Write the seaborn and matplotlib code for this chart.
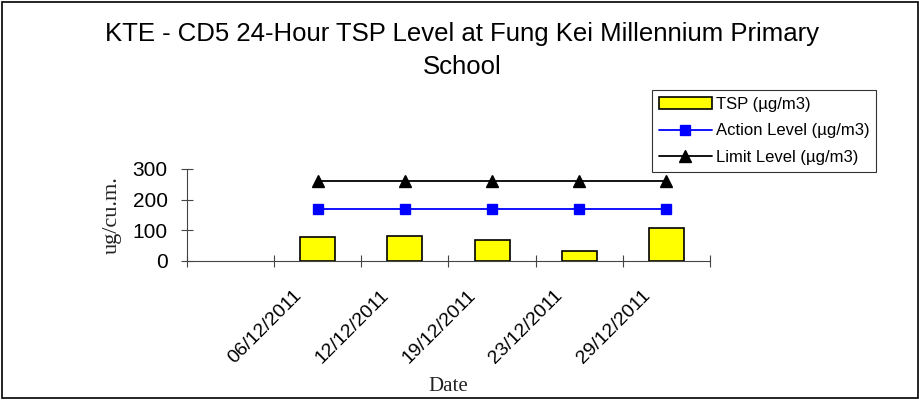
import numpy as np
import pandas as pd
import matplotlib
matplotlib.use('Agg')
import matplotlib.pyplot as plt
import matplotlib.transforms as mtransforms
import seaborn as sns
from matplotlib.patches import Rectangle

# Data
dates = ['06/12/2011', '12/12/2011', '19/12/2011', '23/12/2011', '29/12/2011']
tsp = [78, 83, 70, 31, 108]
action_level = [168, 168, 168, 168, 168]
limit_level = [260, 260, 260, 260, 260]
order = [''] + dates  # first category slot is empty in the original

df = pd.DataFrame({'Date': dates, 'TSP': tsp, 'Action': action_level, 'Limit': limit_level})

sns.set_style('white')
plt.rcParams['font.family'] = ['Liberation Sans', 'DejaVu Sans']
plt.rcParams.update({'text.color': 'black', 'axes.labelcolor': '#222222',
                     'xtick.labelcolor': 'black', 'ytick.labelcolor': 'black'})

fig = plt.figure(figsize=(9.2, 4), dpi=100)
ax = fig.add_axes([187 / 920, 139 / 400, 523 / 920, 92 / 400])

sns.barplot(data=df, x='Date', y='TSP', order=order, color='#ffff00', edgecolor='black',
            linewidth=1.2, width=0.4, saturation=1, ax=ax, label='TSP (µg/m3)')
sns.pointplot(data=df, x='Date', y='Action', order=order, color='#0000ff', markers='s',
              markersize=7, linewidth=1.3, ax=ax, label='Action Level (µg/m3)')
sns.pointplot(data=df, x='Date', y='Limit', order=order, color='black', markers='^',
              markersize=8, linewidth=1.3, ax=ax, label='Limit Level (µg/m3)')

ax.set_xlim(-0.5, len(order) - 0.5)
ax.set_ylim(0, 300)
ax.set_yticks([0, 100, 200, 300])
ax.set_yticklabels(['0', '100', '200', '300'], fontsize=15)

# ticks on category boundaries, labels at category centers
ax.set_xticks(np.arange(-0.5, len(order), 1.0))
ax.set_xticklabels([])
ax.set_xticks(np.arange(len(order)), minor=True)
ax.set_xticklabels(order, minor=True, rotation=45, ha='right', rotation_mode='anchor', fontsize=14)
ax.tick_params(axis='x', which='minor', length=0, pad=12, bottom=True)
ax.tick_params(axis='both', which='major', direction='inout', length=8, width=0.8,
               color='#444444', bottom=True, left=True)
ax.tick_params(axis='y', pad=10)
shift = mtransforms.ScaledTranslation(-0.25, -0.09, fig.dpi_scale_trans)
for lbl in ax.get_xticklabels(minor=True):
    lbl.set_transform(lbl.get_transform() + shift)

for s in ['top', 'right']:
    ax.spines[s].set_visible(False)
for s in ['left', 'bottom']:
    ax.spines[s].set_color('#444444')
    ax.spines[s].set_linewidth(0.8)

ax.set_xlabel('Date', fontsize=15, family=['Liberation Serif'])
ax.set_ylabel('ug/cu.m.', fontsize=16, family=['Liberation Serif'])
ax.xaxis.set_label_coords(0.5, -1.26)
ax.yaxis.set_label_coords(-0.125, 0.5)

fig.suptitle('KTE - CD5 24-Hour TSP Level at Fung Kei Millennium Primary\nSchool',
             x=0.502, y=0.945, fontsize=18.5, linespacing=1.45)

handles, labels = ax.get_legend_handles_labels()
idx = [labels.index(l) for l in ['TSP (µg/m3)', 'Action Level (µg/m3)', 'Limit Level (µg/m3)']]
leg = ax.legend([handles[i] for i in idx], [labels[i] for i in idx],
                loc='upper left', bbox_to_anchor=(652 / 920, 310 / 400), bbox_transform=fig.transFigure,
                fontsize=12, frameon=True, fancybox=False, edgecolor='black', borderpad=0.4,
                handlelength=3.2, handletextpad=0.25, labelspacing=0.7, borderaxespad=0)
leg.get_frame().set_linewidth(0.8)

fig.patches.append(Rectangle((0.002, 0.004), 0.996, 0.992, transform=fig.transFigure,
                             fill=False, edgecolor='black', linewidth=1.2))

fig.savefig('out.png', dpi=100)
